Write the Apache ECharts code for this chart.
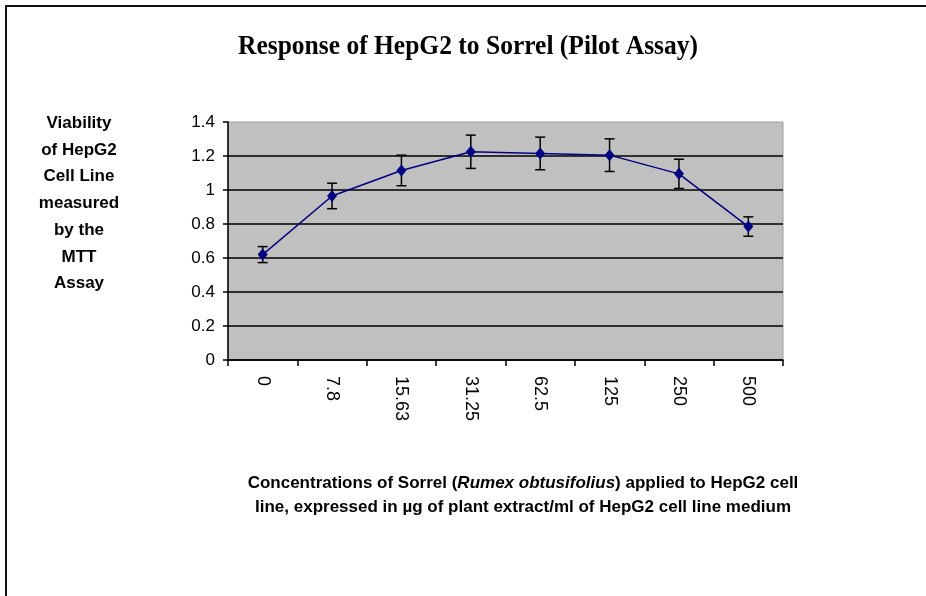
<!DOCTYPE html>
<html><head><meta charset="utf-8">
<script src="https://cdn.jsdelivr.net/npm/echarts@6/dist/echarts.min.js"></script>
<style>html,body{margin:0;padding:0;background:#fff}#c{width:926px;height:596px}</style>
</head><body><div id="c"></div>
<script>
// ---- data ----
const categories = ['0', '7.8', '15.63', '31.25', '62.5', '125', '250', '500'];
const viability = [0.62, 0.965, 1.115, 1.225, 1.215, 1.205, 1.095, 0.785];
const errors = [0.047, 0.075, 0.09, 0.098, 0.096, 0.096, 0.086, 0.057];
const yMin = 0, yMax = 1.4, yStep = 0.2;

const titleText = 'Response of HepG2 to Sorrel (Pilot Assay)';
const yNameText = 'Viability\nof HepG2\nCell Line\nmeasured\nby the\nMTT\nAssay';

// measure title to mimic condensed bold serif
const cv = document.createElement('canvas').getContext('2d');
const titleFont = 'bold 28px "Liberation Serif", "Times New Roman", serif';
cv.font = titleFont;
const titleScale = 460 / cv.measureText(titleText).width;

const errData = categories.map((c, i) => [i, viability[i] - errors[i], viability[i] + errors[i]]);

const chart = echarts.init(document.getElementById('c'), null, {renderer: 'canvas'});
chart.setOption({
  backgroundColor: '#ffffff',
  animation: false,
  grid: {
    left: 228, top: 122, right: 143, bottom: 236,
    show: true, backgroundColor: '#c0c0c0', borderColor: '#a0a0a0', borderWidth: 1
  },
  xAxis: {
    type: 'category',
    data: categories,
    boundaryGap: true,
    axisLine: {lineStyle: {color: '#000', width: 1.5}},
    axisTick: {show: true, length: 6, alignWithLabel: false, lineStyle: {color: '#000', width: 1.5}},
    axisLabel: {rotate: -90, margin: 16, color: '#000', fontFamily: '"Liberation Sans", Arial, sans-serif', fontSize: 18},
    splitLine: {show: false}
  },
  yAxis: {
    type: 'value',
    min: yMin, max: yMax, interval: yStep,
    axisLine: {show: true, lineStyle: {color: '#000', width: 1.5}},
    axisTick: {show: true, length: 5, lineStyle: {color: '#000', width: 1.5}},
    axisLabel: {margin: 13, color: '#000', fontFamily: '"Liberation Sans", Arial, sans-serif', fontSize: 17},
    splitLine: {show: true, showMaxLine: false, lineStyle: {color: '#000', width: 1.5}}
  },
  series: [
    {
      type: 'custom',
      data: errData,
      z: 2,
      renderItem: function (params, api) {
        const x = api.value(0);
        const lo = api.coord([x, api.value(1)]);
        const hi = api.coord([x, api.value(2)]);
        const w = 5;
        const st = {stroke: '#000', lineWidth: 1.5};
        return {type: 'group', children: [
          {type: 'line', shape: {x1: lo[0], y1: lo[1], x2: hi[0], y2: hi[1]}, style: st},
          {type: 'line', shape: {x1: lo[0] - w, y1: lo[1], x2: lo[0] + w, y2: lo[1]}, style: st},
          {type: 'line', shape: {x1: hi[0] - w, y1: hi[1], x2: hi[0] + w, y2: hi[1]}, style: st}
        ]};
      }
    },
    {
      type: 'line',
      data: viability,
      z: 3,
      symbol: 'diamond',
      symbolSize: [10, 12],
      lineStyle: {color: '#000080', width: 1.5},
      itemStyle: {color: '#000080'}
    }
  ],
  graphic: [
    {type: 'line', shape: {x1: 5, y1: 6, x2: 926, y2: 6}, style: {stroke: '#111', lineWidth: 2}},
    {type: 'line', shape: {x1: 6, y1: 5, x2: 6, y2: 596}, style: {stroke: '#111', lineWidth: 2}},
    {type: 'text', x: 468, y: 47, scaleX: titleScale,
      style: {text: titleText, font: titleFont, fill: '#000', textAlign: 'center', textVerticalAlign: 'middle'}},
    {type: 'text', x: 79, y: 110,
      style: {text: yNameText, font: 'bold 17px "Liberation Sans", Arial, sans-serif', fill: '#000',
        textAlign: 'center', textVerticalAlign: 'top', lineHeight: 26.7}},
    {type: 'text', x: 523, y: 471,
      style: {
        text: '{b|Concentrations of Sorrel (}{i|Rumex obtusifolius}{b|) applied to HepG2 cell}\n{b|line, expressed in µg of plant extract/ml of HepG2 cell line medium}',
        textAlign: 'center', textVerticalAlign: 'top', fill: '#000',
        rich: {
          b: {fontFamily: '"Liberation Sans", Arial, sans-serif', fontWeight: 'bold', fontSize: 17, lineHeight: 24, fill: '#000', align: 'center'},
          i: {fontFamily: '"Liberation Sans", Arial, sans-serif', fontWeight: 'bold', fontStyle: 'italic', fontSize: 17, lineHeight: 24, fill: '#000', align: 'center'}
        }
      }}
  ]
});
</script>
</body></html>
